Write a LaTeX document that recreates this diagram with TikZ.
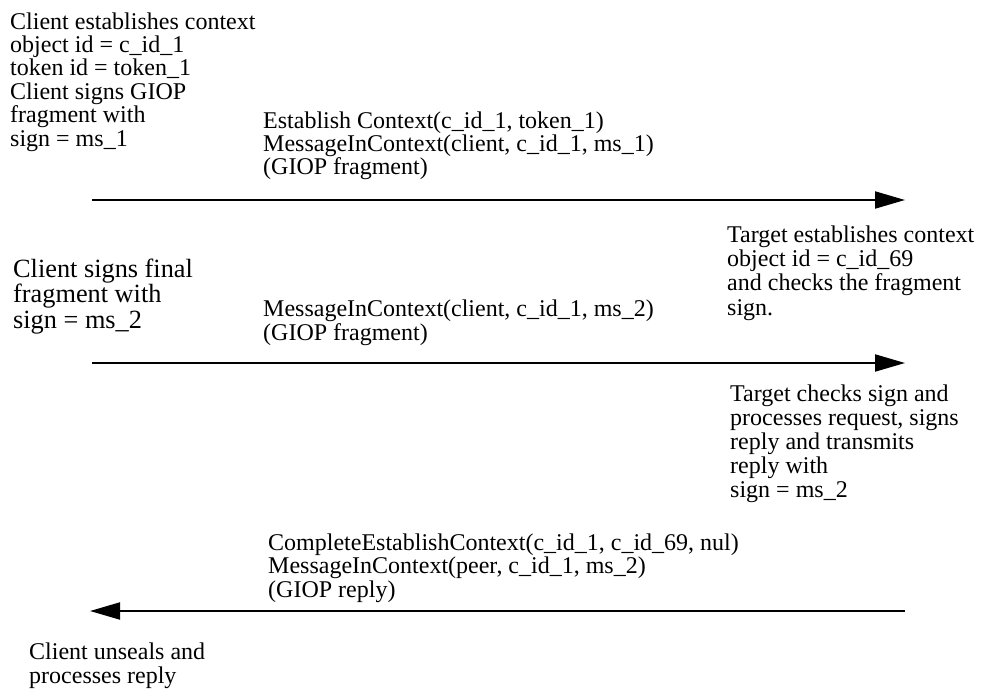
\documentclass[tikz,border=0pt]{standalone}
\usepackage{fontspec}
\setmainfont{Liberation Serif}
\usetikzlibrary{arrows.meta}
\tikzset{
  lbl/.style={anchor=base west, inner sep=0pt, align=left, font=\fontsize{24}{23.4}\selectfont},
  lblbig/.style={anchor=base west, inner sep=0pt, align=left, font=\fontsize{26.3}{25.5}\selectfont},
  msg/.style={line width=2pt, -{Triangle[length=30pt,width=17pt]}}
}
\begin{document}
\begin{tikzpicture}[x=1pt,y=-1pt]
\useasboundingbox (0,0) rectangle (993,688);
% base anchor of a multi-line node = baseline of its last line
\node[lbl] (c1) at (10,146) {Client establishes context\\object id = c\_id\_1\\token id = token\_1\\Client signs GIOP\\fragment with\\sign = ms\_1};
\node[lbl,font=\fontsize{24}{23}\selectfont] (m1) at (263,174) {Establish Context(c\_id\_1, token\_1)\\MessageInContext(client, c\_id\_1, ms\_1)\\(GIOP fragment)};
\coordinate (a1s) at (92,200);
\coordinate (a1e) at (905,200);
\draw[msg] (a1s) -- (a1e);
\node[lbl,font=\fontsize{24}{24.3}\selectfont] (t1) at (727,315) {Target establishes context\\object id = c\_id\_69\\and checks the fragment\\sign.};
\node[lblbig] (c2) at (13,328) {Client signs final\\fragment with\\sign = ms\_2};
\node[lbl] (m2) at (263,340) {MessageInContext(client, c\_id\_1, ms\_2)\\(GIOP fragment)};
\coordinate (a2s) at (92,363);
\coordinate (a2e) at (905,363);
\draw[msg] (a2s) -- (a2e);
\node[lbl,font=\fontsize{24}{24}\selectfont] (t2) at (730,497) {Target checks sign and\\processes request, signs\\reply and transmits\\reply with\\sign = ms\_2};
\node[lbl] (m3) at (268,597) {CompleteEstablishContext(c\_id\_1, c\_id\_69, nul)\\MessageInContext(peer, c\_id\_1, ms\_2)\\(GIOP reply)};
\coordinate (a3s) at (905,611);
\coordinate (a3e) at (90,611);
\draw[msg] (a3s) -- (a3e);
\node[lbl] (c3) at (29,683) {Client unseals and\\processes reply};
\end{tikzpicture}
\end{document}
